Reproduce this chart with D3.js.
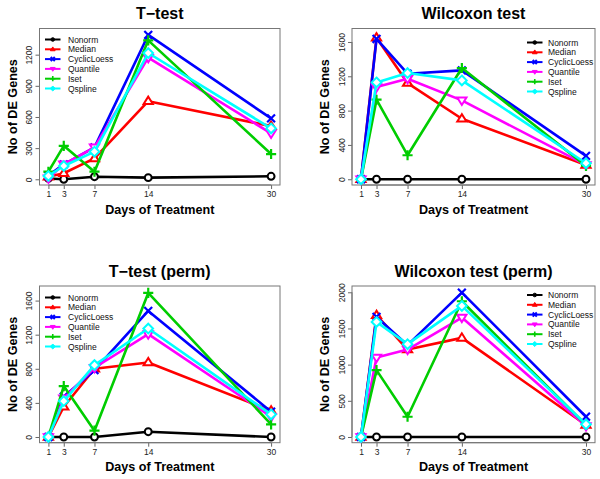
<!DOCTYPE html>
<html><head><meta charset="utf-8">
<script src="https://cdn.jsdelivr.net/npm/d3@7"></script>
<style>body{margin:0;background:#fff}svg{display:block}text{font-family:"Liberation Sans",Arial,sans-serif}</style>
</head><body>
<svg id="chart" width="600" height="479"></svg>
<script>
const days = [1, 3, 7, 14, 30];
const methods = ["Nonorm", "Median", "CyclicLoess", "Quantile", "Iset", "Qspline"];
const colors = ["#000000", "#FF0000", "#0000FF", "#FF00FF", "#00CD00", "#00FFFF"];
const shapes = ["circle", "triangle", "cross", "triangleDown", "plus", "diamond"];
const titles = ["T\u2212test", "Wilcoxon test", "T\u2212test (perm)", "Wilcoxon test (perm)"];

// rows follow the order of `methods`, columns follow `days`
const tTest = [
  [8, 0, 25, 16, 29],
  [25, 58, 201, 752, 512],
  [35, 144, 307, 1390, 586],
  [10, 144, 307, 1171, 442],
  [73, 322, 73, 1338, 243],
  [32, 128, 266, 1216, 490]
];
const wilcoxon = [
  [0, 0, 0, 0, 0],
  [0, 1650, 1121, 705, 167],
  [0, 1635, 1230, 1269, 272],
  [0, 1074, 1172, 919, 167],
  [0, 927, 280, 1296, 156],
  [0, 1129, 1238, 1152, 187]
];
const tTestPerm = [
  [0, 0, 0, 62, 0],
  [0, 355, 800, 874, 308],
  [0, 472, 784, 1479, 297],
  [0, 453, 812, 1206, 238],
  [0, 597, 74, 1690, 148],
  [0, 421, 843, 1272, 265]
];
const wilcoxonPerm = [
  [0, 0, 0, 0, 0],
  [0, 1683, 1209, 1370, 166],
  [0, 1660, 1269, 1996, 280],
  [0, 1099, 1209, 1651, 152],
  [0, 924, 280, 1876, 166],
  [0, 1591, 1283, 1812, 175]
];
const yTicks1 = [0, 300, 600, 900, 1200];
const yTicks2 = [0, 400, 800, 1200, 1600];
const yTicks3 = [0, 400, 800, 1200, 1600];
const yTicks4 = [0, 500, 1000, 1500, 2000];
const yLims = [[-55, 1452], [-67, 1757], [-67, 1771], [-79, 2087]];

const panelData = [tTest, wilcoxon, tTestPerm, wilcoxonPerm];
const panelTicks = [yTicks1, yTicks2, yTicks3, yTicks4];
const layouts = [
  {l: 39.5, r: 280, t: 28.5, b: 185, legX: 45, legTextX: 68, legY: 39.5},
  {l: 352, r: 595, t: 28.5, b: 185, legX: 527, legTextX: 548, legY: 42.5},
  {l: 39.5, r: 280, t: 286, b: 442.7, legX: 45, legTextX: 68, legY: 297.5},
  {l: 352, r: 595, t: 286, b: 442.7, legX: 527, legTextX: 548, legY: 295}
];

const svg = d3.select("#chart");

function drawMarker(g, shape, cx, cy, color, s, filled) {
  const sw = filled ? 1 : 2;
  const fill = filled ? color : "white";
  if (shape === "circle") {
    g.append("circle").attr("cx", cx).attr("cy", cy).attr("r", s * 0.75)
      .attr("fill", fill).attr("stroke", color).attr("stroke-width", sw);
  } else if (shape === "triangle" || shape === "triangleDown") {
    const d = shape === "triangle" ? 1 : -1;
    const h = s * 1.6;
    const pts = [[cx, cy - d * h * 0.62], [cx - s, cy + d * h * 0.38], [cx + s, cy + d * h * 0.38]];
    g.append("path").attr("d", "M" + pts.map(p => p.join(",")).join("L") + "Z")
      .attr("fill", fill).attr("stroke", color).attr("stroke-width", sw).attr("stroke-linejoin", "miter");
  } else if (shape === "diamond") {
    const a = s * 1.05;
    g.append("path").attr("d", `M${cx},${cy - a}L${cx + a},${cy}L${cx},${cy + a}L${cx - a},${cy}Z`)
      .attr("fill", fill).attr("stroke", color).attr("stroke-width", sw);
  } else if (shape === "cross") {
    const a = s * 0.85;
    g.append("path").attr("d", `M${cx - a},${cy - a}L${cx + a},${cy + a}M${cx - a},${cy + a}L${cx + a},${cy - a}`)
      .attr("stroke", color).attr("stroke-width", filled ? 2 : 2.2).attr("fill", "none");
  } else if (shape === "plus") {
    const a = s * 1.1;
    g.append("path").attr("d", `M${cx - a},${cy}L${cx + a},${cy}M${cx},${cy - a}L${cx},${cy + a}`)
      .attr("stroke", color).attr("stroke-width", filled ? 1.6 : 2.2).attr("fill", "none");
  }
}

panelData.forEach((data, pi) => {
  const L = layouts[pi];
  const g = svg.append("g");
  const x = d3.scaleLinear().domain([1 - 29 * 0.04, 30 + 29 * 0.04]).range([L.l, L.r]);
  const y = d3.scaleLinear().domain(yLims[pi]).range([L.b, L.t]);

  // title
  g.append("text").attr("x", (L.l + L.r) / 2).attr("y", L.t - 9.5)
    .attr("text-anchor", "middle").attr("font-weight", "bold").attr("font-size", 16)
    .attr("fill", "#000").text(titles[pi]);

  // x axis
  const xAxis = d3.axisBottom(x).tickValues(days).tickFormat(d3.format("d"))
    .tickSize(4).tickSizeOuter(0).tickPadding(2);
  const gx = g.append("g").attr("transform", `translate(0,${L.b})`).call(xAxis);
  gx.select(".domain").attr("stroke", "#666").attr("d", `M${x(1)},0H${x(30)}`);
  gx.selectAll(".tick line").attr("stroke", "#666");
  gx.selectAll(".tick text").attr("font-size", 8.5).attr("fill", "#222")
    .attr("font-family", "Liberation Sans, Arial, sans-serif");

  // y axis
  const ticks = panelTicks[pi];
  const yAxis = d3.axisLeft(y).tickValues(ticks).tickFormat(d3.format("d"))
    .tickSize(4).tickSizeOuter(0).tickPadding(3);
  const gy = g.append("g").attr("transform", `translate(${L.l},0)`).call(yAxis);
  gy.select(".domain").attr("stroke", "#666").attr("d", `M0,${y(ticks[0])}V${y(ticks[ticks.length - 1])}`);
  gy.selectAll(".tick line").attr("stroke", "#666");
  gy.selectAll(".tick text").attr("font-size", 8.5).attr("fill", "#222")
    .attr("font-family", "Liberation Sans, Arial, sans-serif")
    .attr("text-anchor", "middle").attr("dy", 0)
    .attr("transform", "translate(-7.5,0) rotate(-90)")
    .attr("x", 0).attr("y", 0);

  // box
  g.append("rect").attr("x", L.l).attr("y", L.t).attr("width", L.r - L.l).attr("height", L.b - L.t)
    .attr("fill", "none").attr("stroke", "#777").attr("stroke-width", 1);

  // axis titles
  g.append("text").attr("x", (L.l + L.r) / 2).attr("y", L.b + 28.5)
    .attr("text-anchor", "middle").attr("font-weight", "bold").attr("font-size", 12.6)
    .attr("fill", "#000").text("Days of Treatment");
  g.append("text").attr("transform", `translate(${L.l - 23},${(L.t + L.b) / 2}) rotate(-90)`)
    .attr("text-anchor", "middle").attr("font-weight", "bold").attr("font-size", 12.6)
    .attr("fill", "#000").text("No of DE Genes");

  // series
  const line = d3.line().x((d, i) => x(days[i])).y(d => y(d));
  data.forEach((vals, si) => {
    const sg = g.append("g");
    sg.append("path").attr("d", line(vals)).attr("fill", "none")
      .attr("stroke", colors[si]).attr("stroke-width", 2.6).attr("stroke-linejoin", "round");
    vals.forEach((v, i) => drawMarker(sg, shapes[si], x(days[i]), y(v), colors[si], 4.6, false));
  });

  // legend
  methods.forEach((m, si) => {
    const ly = L.legY + si * 9.8;
    const lg = g.append("g");
    lg.append("line").attr("x1", L.legX).attr("x2", L.legX + 15.5).attr("y1", ly).attr("y2", ly)
      .attr("stroke", colors[si]).attr("stroke-width", 2);
    drawMarker(lg, shapes[si], L.legX + 7.75, ly, colors[si], 2.4, true);
    lg.append("text").attr("x", L.legTextX).attr("y", ly + 3).attr("font-size", 8.5)
      .attr("fill", "#111").text(m);
  });
});
</script>
</body></html>
